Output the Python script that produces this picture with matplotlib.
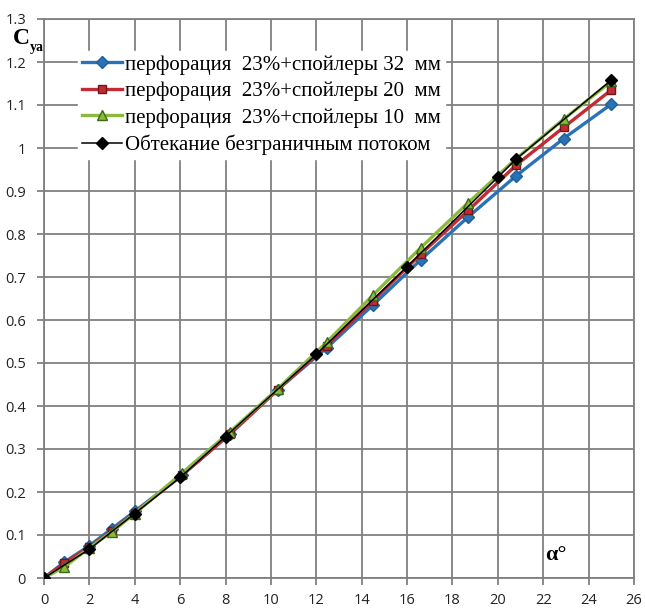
import matplotlib
matplotlib.use("Agg")
import matplotlib.pyplot as plt

# Data
x_exp = [0, 0.9, 2, 3, 4, 6.1, 8.2, 10.3, 12.45, 14.5, 16.6, 18.7, 20.8, 22.9, 25]
y_32 = [0, 0.037, 0.075, 0.115, 0.155, 0.24, 0.335, 0.438, 0.535, 0.635, 0.74, 0.84, 0.935, 1.022, 1.102]
y_20 = [0, 0.035, 0.072, 0.11, 0.152, 0.24, 0.335, 0.438, 0.54, 0.645, 0.753, 0.855, 0.96, 1.048, 1.135]
y_10 = [0, 0.026, 0.07, 0.108, 0.15, 0.245, 0.34, 0.44, 0.548, 0.658, 0.768, 0.873, 0.975, 1.067, 1.155]
x_free = [0, 2, 4, 6, 8, 12, 16, 20, 20.8, 25]
y_free = [0, 0.067, 0.15, 0.234, 0.329, 0.52, 0.724, 0.932, 0.974, 1.158]

labels = ["перфорация  23%+спойлеры 32  мм",
          "перфорация  23%+спойлеры 20  мм",
          "перфорация  23%+спойлеры 10  мм",
          "Обтекание безграничным потоком"]
x_ticks = list(range(0, 27, 2))
y_ticks = [0, 0.1, 0.2, 0.3, 0.4, 0.5, 0.6, 0.7, 0.8, 0.9, 1.0, 1.1, 1.2, 1.3]
y_ticklabels = ["0", "0.1", "0.2", "0.3", "0.4", "0.5", "0.6", "0.7", "0.8", "0.9", "1", "1.1", "1.2", "1.3"]

fig = plt.figure(figsize=(6.45, 6.08), dpi=100)
ax = fig.add_axes([44/645, 30/608, (634-44)/645, (578-19)/608])

ax.plot(x_exp, y_32, color="#2a72b8", lw=2.4, marker="D", ms=6, mfc="#2a72b8", mec="#1f5f99", label=labels[0], zorder=3)
ax.plot(x_exp, y_20, color="#c42a33", lw=2.4, marker="s", ms=6, mfc="#c42a33", mec="#6a1a1a", label=labels[1], zorder=4)
ax.plot(x_exp, y_10, color="#8cb83c", lw=2.4, marker="^", ms=7, mfc="#8cb83c", mec="#3d6a1a", label=labels[2], zorder=5)
ax.plot(x_free, y_free, color="black", lw=1.1, marker="D", ms=6.5, mfc="black", mec="black", label=labels[3], zorder=6)

ax.set_xlim(0, 26)
ax.set_ylim(0, 1.3)
ax.set_xticks(x_ticks)
ax.set_yticks(y_ticks)
ax.set_yticklabels(y_ticklabels)
ax.grid(True, color="#808080", lw=1.3, zorder=0)
ax.set_axisbelow(True)
for s in ax.spines.values():
    s.set_color("#808080")
    s.set_linewidth(1.3)
ax.tick_params(axis="x", direction="out", length=5, width=1.3, color="#808080",
               labelsize=10.5, labelcolor="#222222", pad=6)
ax.tick_params(axis="y", direction="out", length=5, width=1.3, color="#808080",
               labelsize=10.5, labelcolor="#222222", pad=8)
for t in ax.get_xticklabels() + ax.get_yticklabels():
    t.set_family("Open Sans")

leg = ax.legend(loc="upper left", bbox_to_anchor=(0.058, 0.943), frameon=True,
                prop={"family": "Liberation Serif", "size": 15},
                handlelength=1.9, handletextpad=0.15, labelspacing=0.33,
                borderpad=0.2, fancybox=False, borderaxespad=0)
leg.get_frame().set_facecolor("white")
leg.get_frame().set_edgecolor("white")
leg.get_frame().set_alpha(1.0)

fig.text(13/645, 1-39/608, r"C", family="Liberation Serif", fontweight="bold", fontsize=17, va="center", ha="left")
fig.text(30/645, 1-47/608, "ya", family="Liberation Serif", fontweight="bold", fontsize=10, va="center", ha="left")
fig.text(545/645, 1-555/608, "α°", family="Liberation Serif", fontweight="bold", fontsize=16, va="center", ha="left")

fig.savefig("out.png", dpi=100)
